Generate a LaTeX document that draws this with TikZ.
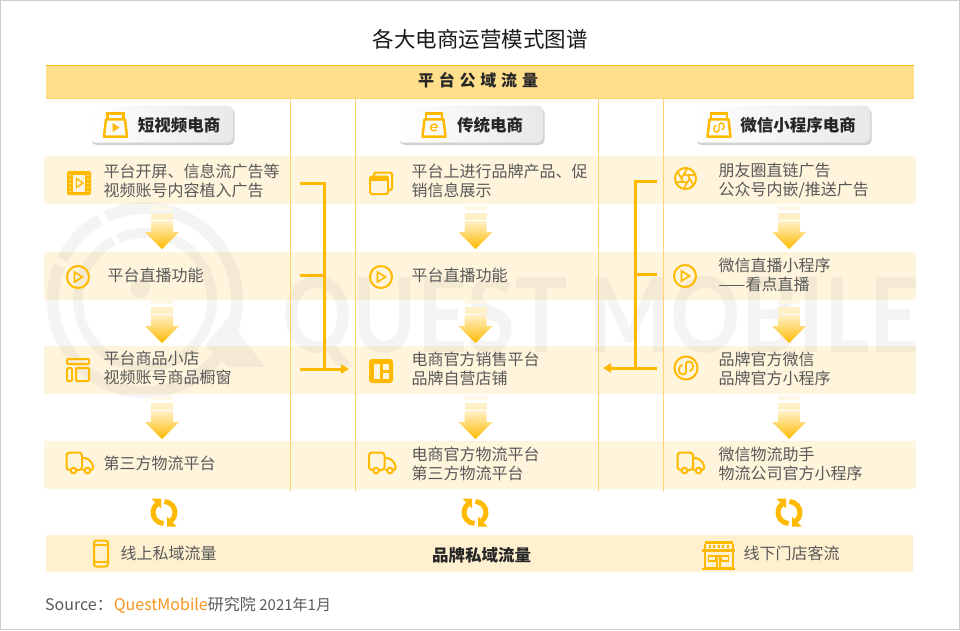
\documentclass[tikz,border=0pt]{standalone}
\usepackage{fontspec}
\setmainfont{Noto Sans CJK SC}
\newfontfamily\markfont{Lato}
\usepackage{tikz}
\usetikzlibrary{calc,arrows.meta,shadows}
\definecolor{myyellow}{HTML}{FFBA00}
\definecolor{mybanner}{HTML}{FFDF8C}
\definecolor{myband}{HTML}{FFF4DC}
\definecolor{myfoot}{HTML}{FFF1D0}
\definecolor{myline}{HTML}{FFD470}
\definecolor{mytext}{HTML}{595959}
\definecolor{myorange}{HTML}{F7941D}
\newcommand{\bodyFont}{\fontsize{16}{19}\selectfont}
\newcommand{\headFont}{\fontsize{16.5}{19}\selectfont\bfseries}
\tikzset{
  bandBox/.style={fill=myband,draw=none},
  sideLine/.style={draw=myline,line width=1pt},
  bracketLine/.style={draw=myyellow,line width=3pt},
  rowText/.style={anchor=west,align=left,inner sep=0,text=mytext,font=\bodyFont},
  tabBox/.style={rounded corners=5pt,left color=white,right color=black!9,minimum height=37pt,
    general shadow={shadow xshift=1.5pt,shadow yshift=-2.5pt,fill=black!40,opacity=.45,rounded corners=5pt}},
  tabText/.style={inner sep=0,text=black!85,font=\headFont},
  iconLine/.style={draw=myyellow,line width=2pt,fill=none},
  iconFill/.style={fill=myyellow,draw=none},
  pics/bagIcon/.style={code={
    \draw[draw=myyellow,line width=2.5pt,line join=round] (-9.5,-5.7) -- (9.5,-5.7) -- (11.5,11.7) -- (-11.5,11.7) -- cycle;
    \draw[draw=myyellow,line width=2.5pt] (-8,-5.7) -- (-8,-11.7) -- (8,-11.7) -- (8,-5.7);}},
  pics/playGlyph/.style={code={
    \draw[draw=myyellow,line width=1.6pt] (-3.5,-5) -- (4.5,0) -- (-3.5,5) -- cycle;}},
  pics/playIcon/.style={code={
    \draw[iconLine] (0,0) circle[radius=11];
    \pic at (0,0) {playGlyph};}},
  pics/filmIcon/.style={code={
    \fill[iconFill,rounded corners=2pt] (-12,-12) rectangle (12,12);
    \fill[myband] (-6,-8.5) rectangle (6,8.5);
    \draw[draw=myyellow,line width=1.4pt] (-2.5,-4.5) -- (4,0) -- (-2.5,4.5) -- cycle;
    \foreach \yy in {-8,-4,0,4,8}{
      \fill[myyellow!45!white] (-9.8,\yy-0.5) rectangle (-8.2,\yy+0.5);
      \fill[myyellow!45!white] (8.2,\yy-0.5) rectangle (9.8,\yy+0.5);}}},
  pics/windowIcon/.style={code={
    \draw[iconLine,rounded corners=2pt] (-7,-7) -- (-7,-10.5) -- (11,-10.5) -- (11,7) -- (7.5,7);
    \draw[iconLine,rounded corners=2pt] (-11,-6.5) rectangle (7,11);
    \fill[iconFill] (-11,-6.5) rectangle (7,-2);}},
  pics/layoutIcon/.style={code={
    \draw[iconLine,rounded corners=1pt] (-11,-11) rectangle (11,-6);
    \draw[iconLine,rounded corners=1pt] (-11,-2) rectangle (-6,11);
    \draw[iconLine,rounded corners=1pt] (-2,-2) rectangle (11,11);}},
  pics/panelIcon/.style={code={
    \fill[iconFill,rounded corners=3pt] (-12,-12) rectangle (12,12);
    \fill[myband] (-7.5,-7.5) rectangle (-1.5,7.5);
    \fill[myband] (2,-7.5) rectangle (7.5,-1);
    \fill[myband] (2,1.5) rectangle (7.5,7.5);}},
  pics/truckIcon/.style={code={
    \draw[iconLine,rounded corners=3pt] (-9,7) -- (-13,7) -- (-13,-10.5) -- (2.5,-10.5) -- (2.5,7) -- (-3,7);
    \draw[iconLine,rounded corners=2pt] (2.5,-5) -- (7.5,-5) -- (13.5,1) -- (13.5,7) -- (11,7);
    \draw[iconLine] (2.5,7) -- (5,7);
    \draw[iconLine] (-6,7.5) circle[radius=2.8];
    \draw[iconLine] (8,7.5) circle[radius=2.8];}},
  pics/apertureIcon/.style={code={
    \draw[iconLine] (0,0) circle[radius=10.5];
    \draw[draw=myyellow,line width=1.6pt] (0,0) circle[radius=4];
    \foreach \aa in {0,60,...,300}{
      \draw[draw=myyellow,line width=1.6pt] (\aa:4) -- (\aa+40:10.5);}}},
  pics/linkGlyph/.style={code={
    \draw[draw=myyellow,line width=#1,line cap=round]
      (-4,-3) .. controls (-8,-2) and (-8.5,6.5) .. (-3,6.5) .. controls (1,6.5) and (0,2) .. (0,0)
      .. controls (0,-2) and (-1,-6.5) .. (3,-6.5) .. controls (8.5,-6.5) and (8,2) .. (4,3);}},
  pics/linkIcon/.style={code={
    \draw[iconLine] (0,0) circle[radius=11.5];
    \pic at (0,0) {linkGlyph=1.8pt};}},
  pics/phoneIcon/.style={code={
    \draw[iconLine,rounded corners=2.5pt] (-7,-13) rectangle (7,13);
    \draw[iconLine] (-7,-8.5) -- (7,-8.5);
    \draw[iconLine] (-7,8.5) -- (7,8.5);}},
  pics/storeIcon/.style={code={
    \fill[iconFill] (-14,-14) rectangle (14,-11.5);
    \fill[iconFill] (-16.5,-6) rectangle (16.5,-3.5);
    \fill[iconFill] (-15,-11.5) rectangle (-13,-4);
    \fill[iconFill] (13,-11.5) rectangle (15,-4);
    \foreach \xx in {-9,-4.5,0,4.5,9}{\fill[iconFill] (\xx-1,-10) rectangle (\xx+1,-7.5);}
    \draw[iconLine] (-14,-3.5) -- (-14,13) -- (14,13) -- (14,-3.5);
    \draw[draw=myyellow,line width=1.6pt] (-10,1) rectangle (-3,6);
    \draw[draw=myyellow,line width=1.6pt] (3,1) rectangle (10,6);
    \draw[draw=myyellow,line width=1.6pt] (-1.5,13) -- (-1.5,1) -- (1.5,1) -- (1.5,13);
    \fill[iconFill] (-16.5,12.5) rectangle (16.5,14.5);}},
  pics/flowArrow/.style={code={
    \fill[myband!75!white] (-11,-21) rectangle (11,-17);
    \fill[myyellow!22!white] (-11,-14) rectangle (11,-7);
    \path[top color=myyellow!22!white,bottom color=myyellow] (-11,-6) -- (11,-6) -- (11,5) -- (17,5) -- (0,22) -- (-17,5) -- (-11,5) -- cycle;}},
  pics/cycleIcon/.style={code={
    \begin{scope}[y=1pt]
      \draw[draw=myyellow,line width=5pt] (130:11) arc[start angle=130,end angle=268,radius=11];
      \draw[draw=myyellow,line width=5pt] (-50:11) arc[start angle=-50,end angle=88,radius=11];
      \fill[myyellow] (-12.5,14) -- (-3,14) -- (-3,4) -- cycle;
      \fill[myyellow] (12.5,-14) -- (3,-14) -- (3,-4) -- cycle;
    \end{scope}}},
}

\begin{document}
\begin{tikzpicture}[x=1pt,y=-1pt]
  \useasboundingbox (0,0) rectangle (960,630);
  \draw[draw=black!20,line width=1pt] (0.5,0.5) rectangle (959.5,629.5);

  \node[inner sep=0,text=black!90,font=\fontsize{21.5}{24}\selectfont] (title) at (480,39) {各大电商运营模式图谱};

  % bands first, the watermark sits on them
  \fill[bandBox] (44,156) rectangle (916,204);
  \fill[bandBox] (44,252) rectangle (916,300);
  \fill[bandBox] (44,346) rectangle (916,394);
  \fill[bandBox] (44,441) rectangle (916,489);
  \fill[myfoot] (46,535) rectangle (913,572);

  \fill[mybanner] (46,65) rectangle (914,98);
  \draw[draw=myyellow,line width=1pt] (46,65) -- (914,65);
  \draw[draw=myline,line width=1pt] (46,98) -- (914,98);
  \node[inner sep=0,text=black!85,font=\fontsize{16}{19}\selectfont\bfseries] (banner) at (478,80) {平\hspace{4.8pt}台\hspace{4.8pt}公\hspace{4.8pt}域\hspace{4.8pt}流\hspace{4.8pt}量};

  % watermark
  \begin{scope}[transparency group,opacity=0.045]
    \begin{scope}[y=1pt,shift={(145,-300)}]
      \draw[line width=12pt] (119:92) arc[start angle=119,end angle=154,radius=92];
      \draw[line width=12pt] (158:92) arc[start angle=158,end angle=475,radius=92];
      \draw[line width=10pt] (118:67) arc[start angle=118,end angle=474,radius=67];
    \end{scope}
    \fill (140,288) circle[radius=10];
    \fill (205,345) -- (228,318) -- (265,367) -- (228,367) -- cycle;
  \end{scope}
  \node[inner sep=0,text=black,text opacity=0.045,font=\fontsize{104}{104}\selectfont\markfont\bfseries,xscale=0.837] (markText) at (601,322) {QUEST MOBILE};

  \draw[sideLine] (290.5,98) -- (290.5,491);
  \draw[sideLine] (355.5,98) -- (355.5,491);
  \draw[sideLine] (598,98) -- (598,491);
  \draw[sideLine] (663.5,98) -- (663.5,491);

  % column heads
  \node[tabBox,minimum width=143pt] (tabVideo) at (161.5,124) {};
  \node[tabBox,minimum width=145pt] (tabRetail) at (470.5,124) {};
  \node[tabBox,minimum width=175pt] (tabWechat) at (782.5,124) {};
  \pic at (115.5,125) {bagIcon};
  \fill[myyellow] (112.5,123) -- (119.5,127.5) -- (112.5,132) -- cycle;
  \pic at (434,125) {bagIcon};
  \begin{scope}[y=1pt,shift={(434,-127.5)}]
    \draw[draw=myyellow,line width=1.4pt] (3.4,0) arc[start angle=0,end angle=320,radius=3.4] ;
    \draw[draw=myyellow,line width=1.4pt] (-3,0) -- (3.4,0);
  \end{scope}
  \pic at (719,125) {bagIcon};
  \pic[scale=0.72] at (719,127.5) {linkGlyph=1.4pt};
  \node[tabText] (tabVideoText) at (179,125) {短视频电商};
  \node[tabText] (tabRetailText) at (490,125) {传统电商};
  \node[tabText] (tabWechatText) at (798,125) {微信小程序电商};

  % first column
  \pic at (79,183) {filmIcon};
  \pic at (78,277) {playIcon};
  \pic at (78,370) {layoutIcon};
  \pic at (79.5,463) {truckIcon};
  \node[rowText] (videoAds) at (103.5,180.5) {平台开屏、信息流广告等\\视频账号内容植入广告};
  \node[rowText] (videoLive) at (107.5,275) {平台直播功能};
  \node[rowText] (videoShop) at (103.5,367.5) {平台商品小店\\视频账号商品橱窗};
  \node[rowText] (videoShip) at (103.5,463) {第三方物流平台};

  % second column
  \pic at (381,183) {windowIcon};
  \pic at (381,277) {playIcon};
  \pic at (381,371) {panelIcon};
  \pic at (382,463) {truckIcon};
  \node[rowText] (retailAds) at (411.5,180.5) {平台上进行品牌产品、促\\销信息展示};
  \node[rowText] (retailLive) at (411.5,275) {平台直播功能};
  \node[rowText] (retailShop) at (411.5,368.5) {电商官方销售平台\\品牌自营店铺};
  \node[rowText] (retailShip) at (411.5,463.5) {电商官方物流平台\\第三方物流平台};

  % third column
  \pic at (685.5,178.5) {apertureIcon};
  \pic at (685,276) {playIcon};
  \pic at (686,368) {linkIcon};
  \pic at (690.5,463) {truckIcon};
  \node[rowText] (wechatAds) at (718.5,180.5) {朋友圈直链广告\\公众号内嵌/推送广告};
  \node[rowText] (wechatLive) at (718.5,274.5) {微信直播小程序\\——看点直播};
  \node[rowText] (wechatShop) at (718.5,368.5) {品牌官方微信\\品牌官方小程序};
  \node[rowText] (wechatShip) at (718.5,463.5) {微信物流助手\\物流公司官方小程序};

  \pic at (162,227) {flowArrow};
  \pic at (162,321) {flowArrow};
  \pic at (162,417) {flowArrow};
  \pic at (475.5,227) {flowArrow};
  \pic at (475.5,321) {flowArrow};
  \pic at (475.5,417) {flowArrow};
  \pic at (789,227) {flowArrow};
  \pic at (789,321) {flowArrow};
  \pic at (789,417) {flowArrow};

  % brackets
  \coordinate (leftTop) at (300,183);
  \coordinate (leftCorner) at (324,183);
  \coordinate (leftMid) at (300,275);
  \coordinate (leftFoot) at (300,369);
  \coordinate (leftTip) at (349,369);
  \draw[bracketLine] (leftTop) -- (leftCorner) -- (leftCorner |- leftFoot);
  \draw[bracketLine] (leftMid) -- (leftMid -| leftCorner);
  \draw[bracketLine,-{Triangle[length=8pt,width=9pt]}] (leftFoot) -- (leftTip);
  \coordinate (rightTop) at (657,181);
  \coordinate (rightCorner) at (635,181);
  \coordinate (rightMid) at (657,274);
  \coordinate (rightFoot) at (657,368);
  \coordinate (rightTip) at (603,368);
  \draw[bracketLine] (rightTop) -- (rightCorner) -- (rightCorner |- rightFoot);
  \draw[bracketLine] (rightMid) -- (rightMid -| rightCorner);
  \draw[bracketLine,-{Triangle[length=8pt,width=9pt]}] (rightFoot) -- (rightTip);

  \pic at (164,512.5) {cycleIcon};
  \pic at (475,512.5) {cycleIcon};
  \pic at (789,512.5) {cycleIcon};

  % bottom row
  \pic at (101,553.5) {phoneIcon};
  \pic at (718.5,555) {storeIcon};
  \node[rowText] (footOnline) at (120.5,553) {线上私域流量};
  \node[inner sep=0,text=black!85,font=\headFont] (footBrand) at (481.5,555) {品牌私域流量};
  \node[rowText] (footStore) at (743.5,553) {线下门店客流};

  \node[rowText] (source) at (45,605.5) {Source：\hspace{1pt}\textcolor{myorange}{QuestMobile}研究院 {\fontsize{15}{19}\selectfont 2021年1月}};
\end{tikzpicture}
\end{document}
